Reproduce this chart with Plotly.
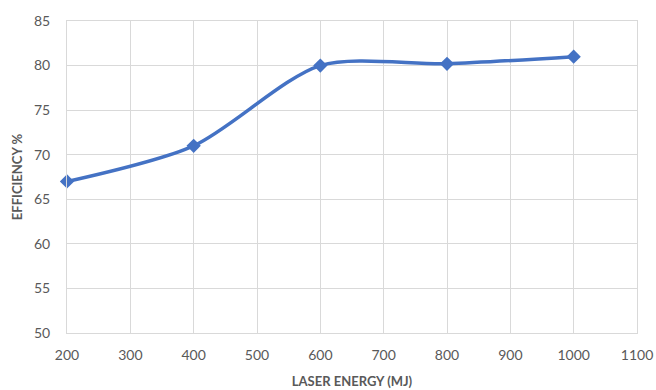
import plotly.graph_objects as go

energy = [200, 400, 600, 800, 1000]
efficiency = [67, 71, 80, 80.2, 81]
x_ticks = [200, 300, 400, 500, 600, 700, 800, 900, 1000, 1100]
y_ticks = [50, 55, 60, 65, 70, 75, 80, 85]

fig = go.Figure()
fig.add_trace(go.Scatter(
    x=energy, y=efficiency, mode="lines+markers",
    line=dict(color="#4472C4", width=3.5, shape="spline", smoothing=0.8),
    marker=dict(symbol="diamond", size=11, color="#4472C4"),
    showlegend=False, cliponaxis=False,
))

font_family = "Lato, 'Open Sans', sans-serif"
fig.update_layout(
    width=656, height=390,
    margin=dict(l=67, r=19, t=21, b=57),
    paper_bgcolor="white", plot_bgcolor="white",
    font=dict(family=font_family, color="#595959", size=14),
    xaxis=dict(
        range=[200, 1100], tickvals=x_ticks, showgrid=True, automargin=False,
        gridcolor="#D9D9D9", gridwidth=1, zeroline=False,
        showline=True, linecolor="#D9D9D9", mirror=True,
        ticks="outside", ticklen=9, tickcolor="rgba(0,0,0,0)",
        tickfont=dict(size=14, color="#595959"),
        title=dict(text="<b>LASER ENERGY (MJ)</b>", font=dict(size=13, color="#595959"), standoff=15),
    ),
    yaxis=dict(
        range=[50, 85], tickvals=y_ticks, showgrid=True, automargin=False,
        gridcolor="#D9D9D9", gridwidth=1, zeroline=False,
        showline=True, linecolor="#D9D9D9", mirror=True,
        ticks="outside", ticklen=13, tickcolor="rgba(0,0,0,0)",
        tickfont=dict(size=14, color="#595959"),
        title=dict(text="<b>EFFICIENCY %</b>", font=dict(size=13, color="#595959"), standoff=8),
    ),
)
fig.write_html("out.html")
